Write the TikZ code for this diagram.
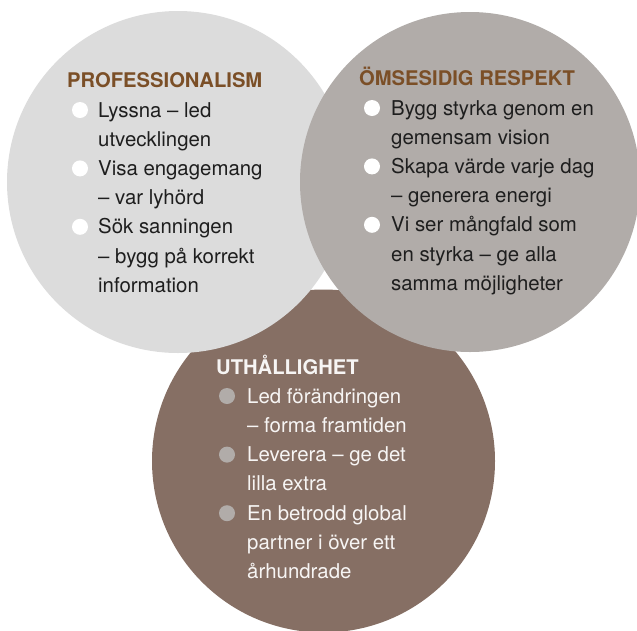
\documentclass[tikz,border=0pt]{standalone}
\usepackage{fontspec}
\setmainfont{TeX Gyre Heros}
\definecolor{lightc}{HTML}{DCDCDC}
\definecolor{darkc}{HTML}{B1ACA9}
\definecolor{brownc}{HTML}{866F64}
\definecolor{titlec}{HTML}{7B4F27}
\definecolor{bodyc}{HTML}{1E1E1E}
\definecolor{whitec}{HTML}{F7F5F4}
\begin{document}
\begin{tikzpicture}[x=1pt,y=-1pt,
  disc/.style={circle, inner sep=0pt, outer sep=0pt},
  ttl/.style={font=\bfseries\fontsize{20.2}{24}\selectfont, anchor=base west, inner sep=0pt},
  body/.style={font=\fontsize{20.4}{24}\selectfont, anchor=base west, inner sep=0pt},
  dot/.style={circle, inner sep=0pt, minimum size=16pt}]
\useasboundingbox (0,0) rectangle (637,630);
\begin{scope}
\clip (0,0) rectangle (637,630);
\node[disc, fill=brownc, minimum size=343pt] (cb) at (323.5,461) {};
\node[disc, fill=lightc, minimum size=342pt] (cl) at (178,182) {};
\node[disc, fill=darkc, minimum size=340pt] (cr) at (470,182) {};
\end{scope}
% left circle
\node[ttl, text=titlec] (tl) at (67,87) {PROFESSIONALISM};
\foreach \t [count=\i from 0] in {Lyssna – led, utvecklingen, Visa engagemang, – var lyhörd, Sök sanningen, – bygg på korrekt, information}
  \node[body, text=bodyc] (l\i) at (98,117+29.2*\i) {\t};
\foreach \i in {0,2,4}
  \node[dot, fill=white] (bl\i) at (80,110+29.2*\i) {};
% right circle
\node[ttl, text=titlec] (tr) at (359,85) {ÖMSESIDIG RESPEKT};
\foreach \t [count=\i from 0] in {Bygg styrka genom en, gemensam vision, Skapa värde varje dag, – generera energi, Vi ser mångfald som, en styrka – ge alla, samma möjligheter}
  \node[body, text=bodyc] (r\i) at (391,115+29.2*\i) {\t};
\foreach \i in {0,2,4}
  \node[dot, fill=white] (br\i) at (372,108+29.2*\i) {};
% bottom circle
\node[ttl, text=whitec] (tb) at (216,374) {UTHÅLLIGHET};
\foreach \t [count=\i from 0] in {Led förändringen, – forma framtiden, Leverera – ge det, lilla extra, En betrodd global, partner i över ett, århundrade}
  \node[body, text=whitec] (b\i) at (247,403+29.3*\i) {\t};
\foreach \i in {0,2,4}
  \node[dot, fill=darkc] (bb\i) at (227,396+29.3*\i) {};
\end{tikzpicture}
\end{document}
